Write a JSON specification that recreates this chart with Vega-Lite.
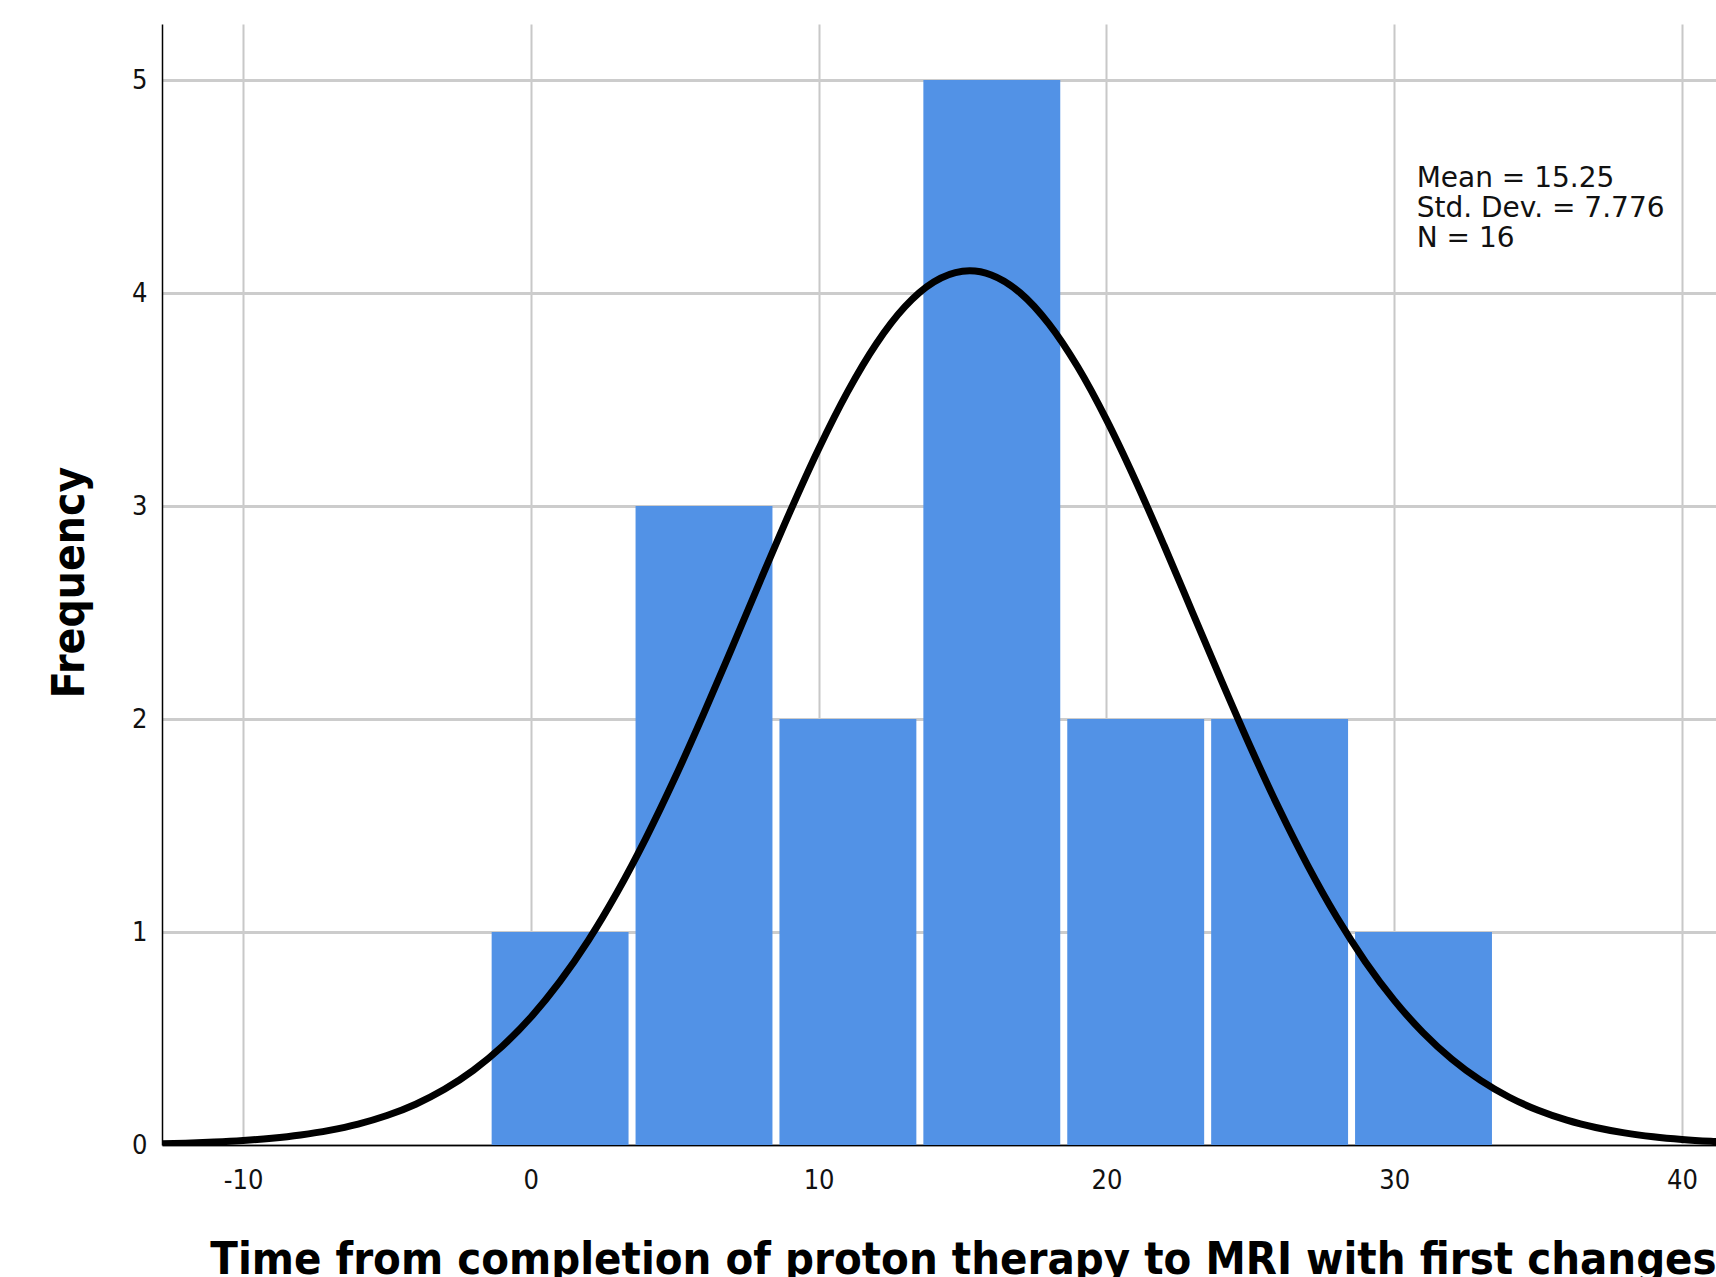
{
  "$schema": "https://vega.github.io/schema/vega-lite/v6.json",
  "width": 1554,
  "height": 1121,
  "autosize": {"type": "none"},
  "padding": {"left": 162, "top": 24, "right": 0, "bottom": 132},
  "background": "white",
  "config": {
    "view": {"stroke": null},
    "font": "DejaVu Sans Condensed",
    "axis": {
      "labelFont": "DejaVu Sans Condensed",
      "titleFont": "DejaVu Sans Condensed",
      "labelColor": "#111111",
      "titleColor": "#000000",
      "domainColor": "#000000",
      "domainWidth": 1.5,
      "ticks": false,
      "tickSize": 0
    }
  },
  "datasets": {
    "bins": [
      {"bin_start": -1.5, "bin_end": 3.5, "count": 1},
      {"bin_start": 3.5, "bin_end": 8.5, "count": 3},
      {"bin_start": 8.5, "bin_end": 13.5, "count": 2},
      {"bin_start": 13.5, "bin_end": 18.5, "count": 5},
      {"bin_start": 18.5, "bin_end": 23.5, "count": 2},
      {"bin_start": 23.5, "bin_end": 28.5, "count": 2},
      {"bin_start": 28.5, "bin_end": 33.5, "count": 1}
    ],
    "curve": [
      {"t": -13, "f": 0.0056}, {"t": -12, "f": 0.0088}, {"t": -11, "f": 0.0138},
      {"t": -10, "f": 0.0211}, {"t": -9, "f": 0.0317}, {"t": -8, "f": 0.0470},
      {"t": -7, "f": 0.0685}, {"t": -6, "f": 0.0981}, {"t": -5, "f": 0.1382},
      {"t": -4, "f": 0.1916}, {"t": -3, "f": 0.2613}, {"t": -2, "f": 0.3503},
      {"t": -1, "f": 0.4622}, {"t": 0, "f": 0.5998}, {"t": 1, "f": 0.7656},
      {"t": 2, "f": 0.9608}, {"t": 3, "f": 1.1866}, {"t": 4, "f": 1.4411},
      {"t": 5, "f": 1.7215}, {"t": 6, "f": 2.0227}, {"t": 7, "f": 2.3377},
      {"t": 8, "f": 2.6573}, {"t": 9, "f": 2.9712}, {"t": 10, "f": 3.2676},
      {"t": 11, "f": 3.5346}, {"t": 12, "f": 3.7607}, {"t": 13, "f": 3.9357},
      {"t": 14, "f": 4.0513}, {"t": 15, "f": 4.1019}, {"t": 15.25, "f": 4.104},
      {"t": 16, "f": 4.0850}, {"t": 17, "f": 4.0014}, {"t": 18, "f": 3.8552},
      {"t": 19, "f": 3.6535}, {"t": 20, "f": 3.4055}, {"t": 21, "f": 3.1224},
      {"t": 22, "f": 2.8158}, {"t": 23, "f": 2.4976}, {"t": 24, "f": 2.1790},
      {"t": 25, "f": 1.8697}, {"t": 26, "f": 1.5782}, {"t": 27, "f": 1.3104},
      {"t": 28, "f": 1.0701}, {"t": 29, "f": 0.8596}, {"t": 30, "f": 0.6791},
      {"t": 31, "f": 0.5277}, {"t": 32, "f": 0.4033}, {"t": 33, "f": 0.3032},
      {"t": 34, "f": 0.2242}, {"t": 35, "f": 0.1631}, {"t": 36, "f": 0.1166},
      {"t": 37, "f": 0.0821}, {"t": 38, "f": 0.0568}, {"t": 39, "f": 0.0387},
      {"t": 40, "f": 0.0259}, {"t": 41, "f": 0.0171}, {"t": 42, "f": 0.0110}
    ],
    "stats": [
      {"x": 30.78, "y": 4.498, "label": "Mean = 15.25\nStd. Dev. = 7.776\nN = 16"}
    ]
  },
  "layer": [
    {
      "data": {"name": "bins"},
      "mark": {"type": "bar", "color": "#5292E6", "binSpacing": 7},
      "encoding": {
        "x": {
          "field": "bin_start",
          "type": "quantitative",
          "bin": "binned",
          "scale": {"domain": [-12.815, 41.18], "nice": false, "zero": false},
          "axis": {
            "values": [-10, 0, 10, 20, 30, 40],
            "labelExpr": "'' + datum.value",
            "grid": true,
            "title": "Time from completion of proton therapy to MRI with first changes",
            "titleFontSize": 45,
            "titleFontWeight": "bold",
            "titleBaseline": "alphabetic",
            "titleY": 128,
            "titleX": 801,
            "titleAlign": "center",
            "titleAnchor": "middle",
            "labelFontSize": 27,
            "labelPadding": 22,
            "labelBaseline": "top",
            "gridColor": "#c8c8c8",
            "gridWidth": 2,
            "labelFlush": false
          }
        },
        "x2": {"field": "bin_end"},
        "y": {
          "field": "count",
          "type": "quantitative",
          "scale": {"domain": [0, 5.263], "nice": false},
          "axis": {
            "values": [0, 1, 2, 3, 4, 5],
            "format": "d",
            "title": "Frequency",
            "titleFontSize": 44,
            "titleFontWeight": "bold",
            "titleAngle": -90,
            "titleBaseline": "alphabetic",
            "titleAlign": "center",
            "titleX": -79,
            "titleY": 558,
            "labelFontSize": 27,
            "labelPadding": 15,
            "labelBaseline": "middle",
            "gridColor": "#cccccc",
            "gridWidth": 3,
            "labelFlush": false
          }
        }
      }
    },
    {
      "data": {"name": "curve"},
      "mark": {"type": "line", "color": "#000000", "strokeWidth": 7, "interpolate": "monotone", "clip": true},
      "encoding": {
        "x": {"field": "t", "type": "quantitative"},
        "y": {"field": "f", "type": "quantitative"}
      }
    },
    {
      "data": {"name": "stats"},
      "mark": {"type": "text", "align": "left", "baseline": "alphabetic", "lineBreak": "\n", "lineHeight": 30, "fontSize": 28, "font": "DejaVu Sans", "color": "#111111"},
      "encoding": {
        "x": {"field": "x", "type": "quantitative"},
        "y": {"field": "y", "type": "quantitative"},
        "text": {"field": "label", "type": "nominal"}
      }
    }
  ]
}
